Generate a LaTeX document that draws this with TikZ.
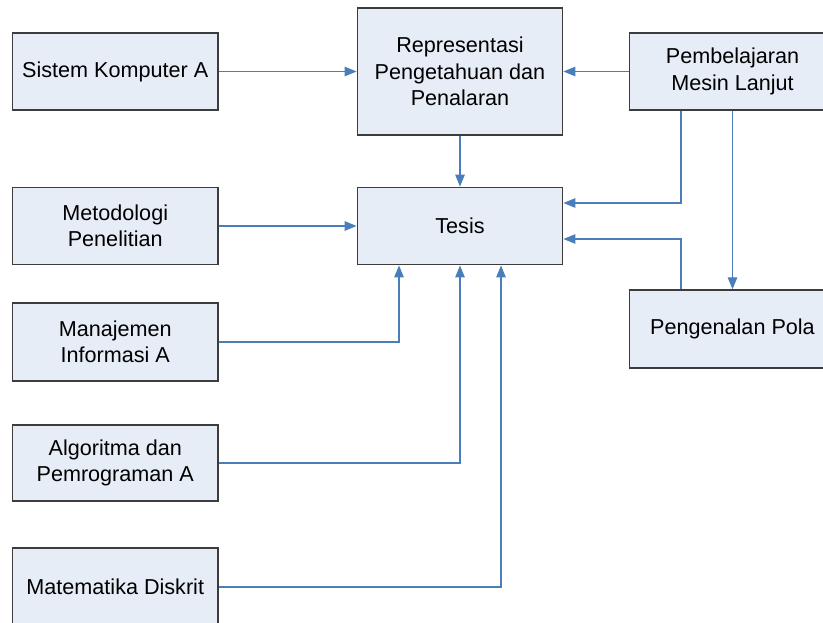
\documentclass[tikz,border=0pt]{standalone}
\usepackage{fontspec}
\setmainfont{Liberation Sans}
\usetikzlibrary{arrows.meta,calc}

\definecolor{boxfill}{HTML}{E7EDF7}
\definecolor{boxline}{HTML}{3C3C3C}
\definecolor{linkblue}{HTML}{4A7EBB}

\tikzset{
  course/.style={draw=boxline, line width=1.3bp, fill=boxfill,
    minimum width=205.5bp, minimum height=77bp, inner sep=0pt,
    align=center, font=\fontsize{21.6bp}{26.4bp}\selectfont},
  link/.style={draw=linkblue, line width=1.2bp,
    -{Triangle[length=12bp,width=9.5bp]}, color=linkblue}
}

\begin{document}
\begin{tikzpicture}[x=1bp, y=-1bp]
  \useasboundingbox (0,0) rectangle (823,623);
  \clip (0,0) rectangle (823,623);

  % course boxes
  \node[course] (sk)  at (115.25,71.5) {Sistem Komputer A};
  \node[course, minimum height=127bp] (rep) at (460,71.5)
        {Representasi\\Pengetahuan dan\\Penalaran};
  \node[course, minimum width=206bp] (pml) at (732.5,71.5)
        {Pembelajaran\\Mesin Lanjut};
  \node[course, minimum height=77.5bp] (tes) at (460,226) {Tesis};
  \node[course, minimum height=77.5bp] (met) at (115.25,226)
        {Metodologi\\Penelitian};
  \node[course, minimum height=78bp] (man) at (115.25,342)
        {Manajemen\\Informasi A};
  \node[course, minimum width=206bp, minimum height=78bp] (pp) at (732.5,329)
        {Pengenalan Pola};
  \node[course, minimum height=76bp] (alg) at (115.25,463)
        {Algoritma dan\\Pemrograman A};
  \node[course, minimum height=78bp] (mat) at (115.25,587)
        {Matematika Diskrit};

  % bend points of the elbow connectors
  \coordinate (tesA) at ($(tes.south)+(-61,0)$);
  \coordinate (tesC) at ($(tes.south)+(41,0)$);
  \coordinate (pmlL) at ($(pml.south)+(-51.5,0)$);
  \coordinate (ppL)  at ($(pp.north)+(-51.5,0)$);
  \coordinate (tesU) at ($(tes.east)+(0,-23)$);
  \coordinate (tesD) at ($(tes.east)+(0,13)$);

  % straight prerequisites
  \draw[link] (sk.east) -- (rep.west);
  \draw[link] (pml.west) -- (rep.east);
  \draw[link] (rep.south) -- (tes.north);
  \draw[link] (met.east) -- (tes.west);
  \draw[link] (pml.south) -- (pp.north);

  % elbow prerequisites into the thesis
  \draw[link] (man.east) -| (tesA);
  \draw[link] (alg.east) -| (tes.south);
  \draw[link] (mat.east) -| (tesC);
  \draw[link] (pmlL) |- (tesU);
  \draw[link] (ppL) |- (tesD);
\end{tikzpicture}
\end{document}
